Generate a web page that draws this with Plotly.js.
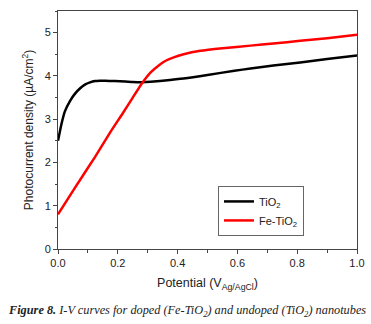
<!DOCTYPE html>
<html><head><meta charset="utf-8">
<script src="https://cdn.plot.ly/plotly-3.0.1.min.js"></script>
<style>html,body{margin:0;padding:0;background:#fff}#c{width:371px;height:324px}</style>
</head><body><div id="c"></div>
<script>
var tio2X = [0.0, 0.012, 0.023, 0.04, 0.057, 0.075, 0.09, 0.107, 0.124, 0.14, 0.158, 0.19, 0.225, 0.25, 0.28, 0.31, 0.35, 0.42, 0.5, 0.59, 0.644, 0.72, 0.81, 0.9, 1.0];
var tio2Y = [2.5, 2.9, 3.18, 3.42, 3.59, 3.72, 3.8, 3.85, 3.88, 3.89, 3.89, 3.88, 3.87, 3.86, 3.855, 3.865, 3.89, 3.94, 4.02, 4.12, 4.17, 4.24, 4.31, 4.39, 4.47];
var feX = [0.0, 0.057, 0.124, 0.175, 0.215, 0.25, 0.28, 0.31, 0.34, 0.36, 0.387, 0.42, 0.476, 0.55, 0.644, 0.72, 0.81, 0.9, 1.0];
var feY = [0.8, 1.42, 2.13, 2.7, 3.12, 3.5, 3.82, 4.08, 4.26, 4.35, 4.43, 4.5, 4.58, 4.64, 4.7, 4.75, 4.81, 4.87, 4.95];
var names = ['TiO<sub>2</sub>', 'Fe-TiO<sub>2</sub>'];

var axisCol = '#444';
var traces = [
  {x: tio2X, y: tio2Y, name: names[0], mode: 'lines', line: {color: '#000', width: 2.5, shape: 'spline', smoothing: 0.5}},
  {x: feX, y: feY, name: names[1], mode: 'lines', line: {color: '#ff0000', width: 2.5, shape: 'spline', smoothing: 0.5}}
];
var layout = {
  width: 371, height: 324,
  margin: {l: 58, r: 14, t: 11, b: 75},
  paper_bgcolor: '#fff', plot_bgcolor: '#fff',
  font: {family: 'Liberation Sans, Arial, sans-serif', color: '#222', size: 11},
  showlegend: true,
  legend: {x: 0.535, y: 0.265, xanchor: 'left', yanchor: 'top', bordercolor: '#666', borderwidth: 1,
           bgcolor: '#fff', font: {size: 11, color: '#222'}, tracegroupgap: 0, itemwidth: 30},
  xaxis: {range: [0, 1], dtick: 0.2, tickformat: '.1f', ticks: 'outside', ticklen: 4, tickcolor: axisCol,
          showline: true, linecolor: axisCol, linewidth: 1, mirror: true, showgrid: false, zeroline: false,
          minor: {dtick: 0.1, ticks: 'outside', ticklen: 2.5, tickcolor: axisCol},
          tickfont: {size: 11, color: '#222'},
          title: {text: 'Potential (V<sub>Ag/AgCl</sub>)', font: {size: 12.5, color: '#222'}, standoff: 10}},
  yaxis: {range: [0, 5.5], dtick: 1, ticks: 'outside', ticklen: 4, tickcolor: axisCol,
          showline: true, linecolor: axisCol, linewidth: 1, mirror: true, showgrid: false, zeroline: false,
          minor: {dtick: 0.5, ticks: 'outside', ticklen: 2.5, tickcolor: axisCol},
          tickfont: {size: 11, color: '#222'},
          title: {text: 'Photocurrent density (\u00b5A/cm<sup>2</sup>)', font: {size: 12, color: '#222'}, standoff: 8}},
  annotations: [{
    xref: 'paper', yref: 'paper', x: 0.43, y: -0.22, xanchor: 'center', yanchor: 'top', showarrow: false,
    text: '<b><i>Figure 8.</i></b><i> I-V curves for doped (Fe-TiO<sub>2</sub>) and undoped (TiO<sub>2</sub>) nanotubes</i>',
    font: {family: 'Liberation Serif, Times New Roman, serif', size: 12.3, color: '#222'}
  }]
};
Plotly.newPlot('c', traces, layout, {displayModeBar: false, staticPlot: true});
</script></body></html>
